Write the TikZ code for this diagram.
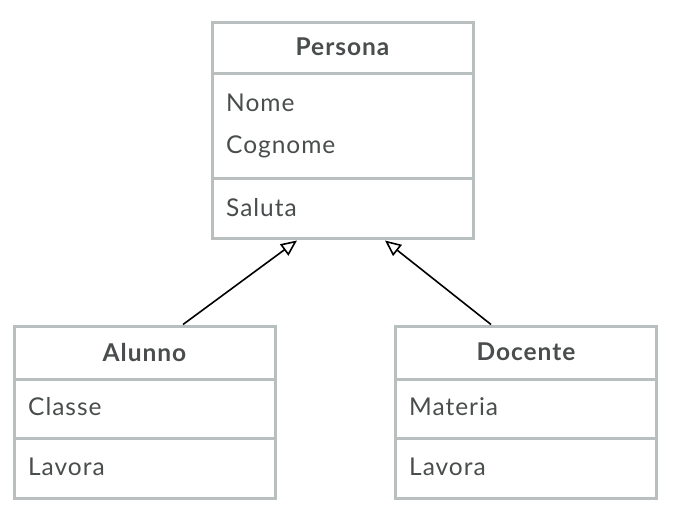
\documentclass[tikz,border=0pt]{standalone}
\usepackage{fontspec}
\setmainfont{Lato}[LetterSpace=4]
\usetikzlibrary{arrows.meta}
\definecolor{bordergray}{HTML}{B9BEBE}
\definecolor{textgray}{HTML}{4A4D4D}
\begin{document}
\begin{tikzpicture}[x=1pt,y=-1pt,
  umlbox/.style={draw=bordergray,line width=3pt,rectangle,inner sep=0pt,fill=white},
  divider/.style={draw=bordergray,line width=3pt},
  title/.style={font=\fontsize{24.5}{28}\selectfont\bfseries,text=textgray,inner sep=0pt},
  member/.style={font=\fontsize{24.5}{28}\selectfont,text=textgray,inner sep=0pt,anchor=west},
  inherit/.style={line width=1.6pt,-{Triangle[open,length=16pt,width=14pt,line width=1.6pt]}}]
\useasboundingbox (0,0) rectangle (682,525);
% Persona
\node[umlbox,minimum width=261pt,minimum height=216pt] (persona) at (342.5,130) {};
\draw[divider] (212,73) -- (473,73);
\draw[divider] (212,178) -- (473,178);
\node[title] (pname) at (342.5,47) {Persona};
\node[member] (pnome) at (226,103) {Nome};
\node[member] (pcog) at (226,147) {Cognome};
\node[member] (psal) at (226,208) {Saluta};
% Alunno
\node[umlbox,minimum width=261pt,minimum height=172pt] (alunno) at (144.5,412) {};
\draw[divider] (14,379) -- (275,379);
\draw[divider] (14,438) -- (275,438);
\node[title] (aname) at (144.5,352) {Alunno};
\node[member] (acls) at (28,407) {Classe};
\node[member] (alav) at (28,467) {Lavora};
% Docente
\node[umlbox,minimum width=261pt,minimum height=172pt] (docente) at (526,412) {};
\draw[divider] (395.5,379) -- (656.5,379);
\draw[divider] (395.5,438) -- (656.5,438);
\node[title] (dname) at (526,352) {Docente};
\node[member] (dmat) at (409,407) {Materia};
\node[member] (dlav) at (409,467) {Lavora};
% connectors
\coordinate (a1) at (183,324.5);
\coordinate (a2) at (297,240.5);
\coordinate (d1) at (491,324.5);
\coordinate (d2) at (385,240.5);
\draw[inherit] (a1) -- (a2);
\draw[inherit] (d1) -- (d2);
\end{tikzpicture}
\end{document}
